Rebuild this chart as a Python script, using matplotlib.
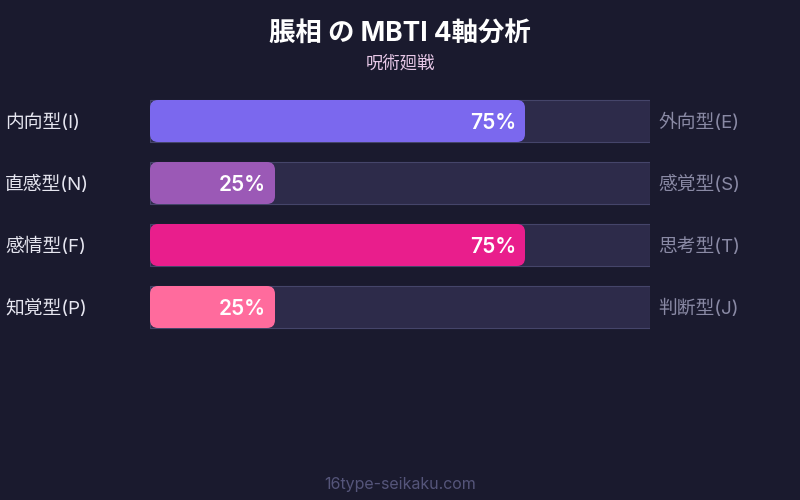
import matplotlib.pyplot as plt
from matplotlib.patches import FancyBboxPatch

plt.rcParams['font.family'] = ['Inter', 'Noto Sans CJK JP', 'DejaVu Sans']

# data
left_labels = ['内向型(I)', '直感型(N)', '感情型(F)', '知覚型(P)']
right_labels = ['外向型(E)', '感覚型(S)', '思考型(T)', '判断型(J)']
values = [75, 25, 75, 25]
colors = ['#7b68ee', '#9b59b6', '#e91e8c', '#ff6b9d']

bg = '#1a1a2e'
track = '#2d2b4a'

fig = plt.figure(figsize=(8, 5), dpi=100, facecolor=bg)

# bar area: x 150..650 px, rows from y=90 to 338 px (top origin)
W, H = 800, 500
ax = fig.add_axes([150 / W, 1 - 338 / H, 500 / W, 248 / H])
ax.set_facecolor(bg)
ax.set_xlim(0, 100)
ax.set_ylim(3.5, -0.5)
ax.axis('off')

bh = 42 / 62
ypos = range(len(values))
ax.barh(list(ypos), [100] * len(values), height=bh, color=track,
        edgecolor='#45456a', linewidth=0.8)

for i, (v, c) in enumerate(zip(values, colors)):
    p = FancyBboxPatch((0, i - bh / 2), v, bh,
                       boxstyle='round,pad=0,rounding_size=1.6',
                       mutation_aspect=(8 / 62) / 1.6,
                       facecolor=c, edgecolor='none')
    ax.add_patch(p)
    ax.text(v - 1.8, i + 0.03, f'{v}%', ha='right', va='center',
            color='white', fontsize=15, fontweight='semibold')
    ax.text(-29, i + 0.03, left_labels[i], ha='left', va='center',
            color='#e6e6f0', fontsize=13.5)
    ax.text(101.6, i + 0.03, right_labels[i], ha='left', va='center',
            color='#8a8aa5', fontsize=13.5)

fig.text(0.5, 1 - 35 / H, '脹相 の MBTI 4軸分析', ha='center', va='center',
         color='white', fontsize=19, fontweight='bold')
fig.text(0.5, 1 - 64 / H, '呪術廻戦', ha='center', va='center',
         color='#e8c8e8', fontsize=12.5)
fig.text(0.5, 1 - 485 / H, '16type-seikaku.com', ha='center', va='center',
         color='#55557a', fontsize=11.5)

fig.savefig('out.png', dpi=100, facecolor=bg)
